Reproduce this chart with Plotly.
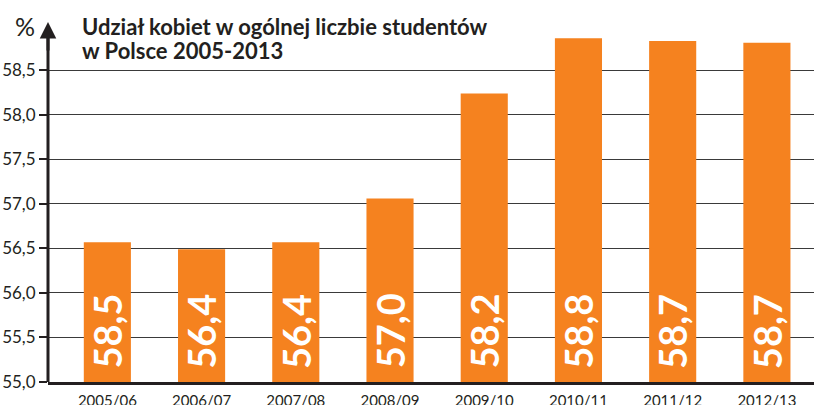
import plotly.graph_objects as go

categories = ["2005/06", "2006/07", "2007/08", "2008/09", "2009/10", "2010/11", "2011/12", "2012/13"]
bar_values = [56.57, 56.49, 56.57, 57.06, 58.24, 58.86, 58.83, 58.81]
bar_labels = ["58,5", "56,4", "56,4", "57,0", "58,2", "58,8", "58,7", "58,7"]
y_tickvals = [55.0, 55.5, 56.0, 56.5, 57.0, 57.5, 58.0, 58.5]
y_ticktext = ["55,0", "55,5", "56,0", "56,5", "57,0", "57,5", "58,0", "58,5"]
title_lines = ["Udział kobiet w ogólnej liczbie studentów", "w Polsce 2005-2013"]

ORANGE = "#f5821f"
DARK = "#231f20"
FONT = "Lato"

fig = go.Figure()
fig.add_trace(go.Bar(
    x=list(range(len(categories))), y=bar_values, base=0,
    marker=dict(color=ORANGE, line=dict(width=0)),
    width=0.5, hoverinfo="skip",
))

annotations = []
for i, lab in enumerate(bar_labels):
    annotations.append(dict(
        x=i, y=55.57, xref="x", yref="y", text="<b>" + lab + "</b>",
        textangle=-90, showarrow=False,
        font=dict(family="Liberation Sans Narrow, Lato", size=38, color="white"),
    ))
# y-axis arrow head
annotations.append(dict(
    x=0, y=(382 - 22) / 374, xref="paper", yref="paper", ax=0, ay=30,
    text="", showarrow=True, arrowhead=2, arrowsize=1.1, arrowwidth=3, arrowcolor=DARK,
    standoff=0,
))
annotations.append(dict(
    x=(25 - 48) / 766, y=(382 - 26) / 374, xref="paper", yref="paper", text="%", showarrow=False,
    xanchor="center", yanchor="middle",
    font=dict(family=FONT, size=25, color=DARK),
))
for k, (line, py) in enumerate(zip(title_lines, [27, 50])):
    annotations.append(dict(
        x=(80 - 48) / 766, y=(382 - py) / 374, xref="paper", yref="paper",
        text="<b>" + line + "</b>", showarrow=False, xanchor="left", yanchor="middle",
        font=dict(family=FONT, size=22, color=DARK),
    ))

fig.update_layout(
    width=816, height=405,
    margin=dict(l=48, r=2, t=8, b=23),
    paper_bgcolor="white", plot_bgcolor="white",
    showlegend=False,
    xaxis=dict(
        range=[-0.63, 7.5], tickvals=list(range(len(categories))), ticktext=categories,
        showgrid=False, zeroline=False, showline=True, linewidth=3, linecolor=DARK,
        ticks="", ticklabelstandoff=3, automargin=False,
        tickfont=dict(family=FONT, size=15, color=DARK),
    ),
    yaxis=dict(
        range=[55, 59.2], tickvals=y_tickvals, ticktext=y_ticktext,
        showgrid=True, gridcolor="#3a3a3a", gridwidth=1.2, zeroline=False, showline=False,
        ticks="outside", ticklen=8, tickwidth=1.5, tickcolor=DARK, automargin=False,
        tickfont=dict(family=FONT, size=17, color=DARK),
    ),
    annotations=annotations,
)

# y-axis stem as a shape
fig.add_shape(type="line", xref="paper", yref="paper", x0=0, x1=0, y0=0, y1=(382 - 30) / 374,
              line=dict(color=DARK, width=3))

fig.write_html("out.html", config={"displayModeBar": False},
               post_script="document.body.style.margin='0';")
